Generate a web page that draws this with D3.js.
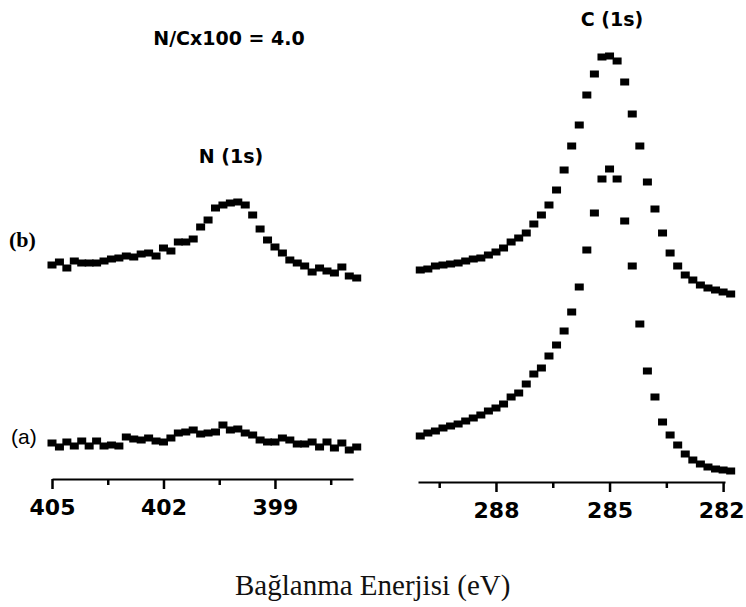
<!DOCTYPE html>
<html>
<head>
<meta charset="utf-8">
<script src="https://cdn.jsdelivr.net/npm/d3@7"></script>
<style>
  body { margin: 0; background: #fff; }
  svg { display: block; }
</style>
</head>
<body>
<script>
// Energies (eV) of the N 1s scan, 0.2 eV step
const nEnergy = [405.0, 404.8, 404.6, 404.4, 404.2, 404.0, 403.8, 403.6, 403.4, 403.2,
  403.0, 402.8, 402.6, 402.4, 402.2, 402.0, 401.8, 401.6, 401.4, 401.2,
  401.0, 400.8, 400.6, 400.4, 400.2, 400.0, 399.8, 399.6, 399.4, 399.2,
  399.0, 398.8, 398.6, 398.4, 398.2, 398.0, 397.8, 397.6, 397.4, 397.2,
  397.0, 396.8]
// Intensities (a.u., offsets as drawn)
const nB = [215, 218, 212, 219, 217, 217, 217, 219, 221, 222,
  224, 223, 226, 227, 224, 232, 229, 238, 238, 241,
  253, 260, 272, 275, 277, 278, 275, 265, 251, 240,
  233, 227, 220, 217, 214, 208, 212, 209, 207, 213,
  204, 202]
const nA = [37, 33, 38, 34, 39, 34, 39, 34, 35, 34,
  43, 41, 40, 42, 39, 38, 42, 47, 48, 50,
  46, 47, 48, 55, 50, 51, 47, 45, 40, 38,
  38, 42, 40, 36, 36, 38, 33, 38, 32, 37,
  30, 33]

// Energies (eV) of the C 1s scan
const cEnergy = [290.0, 289.8, 289.6, 289.4, 289.2, 289.0, 288.8, 288.6, 288.4, 288.2,
  288.0, 287.8, 287.6, 287.4, 287.2, 287.0, 286.8, 286.6, 286.4, 286.2,
  286.0, 285.8, 285.6, 285.4, 285.2, 285.0, 284.8, 284.6, 284.4, 284.2,
  284.0, 283.8, 283.6, 283.4, 283.2, 283.0, 282.8, 282.6, 282.4, 282.2,
  282.0, 281.8]
const cB = [210, 211, 214, 215, 216, 217, 219, 221, 222, 225,
  228, 232, 238, 242, 247, 256, 265, 275, 290, 310,
  334, 355, 385, 406, 423, 424, 419, 398, 366, 334,
  298, 271, 247, 227, 214, 205, 200, 195, 192, 190,
  188, 186]
const cA = [44, 47, 49, 52, 54, 56, 59, 62, 65, 69,
  72, 76, 83, 87, 96, 106, 112, 124, 135, 149,
  168, 193, 230, 267, 301, 311, 301, 259, 214, 156,
  109, 83, 58, 45, 35, 26, 20, 16, 13, 11,
  10, 9]

const nMajor = [405, 402, 399]
const nMinor = [403.5, 400.5, 397.5]
const cMajor = [288, 285, 282]
const cMinor = [289.5, 286.5, 283.5]

const W = 746, H = 607

const svg = d3.select("body").append("svg")
  .attr("width", W)
  .attr("height", H)

svg.append("rect").attr("width", W).attr("height", H).attr("fill", "#fff")

// scales (binding energy runs right to left)
const xN = d3.scaleLinear().domain([405, 396.9]).range([52, 353])
const xC = d3.scaleLinear().domain([290.06, 281.95]).range([418, 725])
const y = d3.scaleLinear().domain([0, 430]).range([480, 50])

// ---- axes
function drawAxis(scale, yPos, major, minor) {
  const g = svg.append("g").attr("transform", "translate(0," + yPos + ")")
  g.call(d3.axisBottom(scale).tickValues(major).tickSize(10).tickSizeOuter(0)
      .tickPadding(10).tickFormat(d3.format("d")))
  g.append("g").call(d3.axisBottom(scale).tickValues(minor).tickSize(6)
      .tickSizeOuter(0).tickFormat(""))
    .select(".domain").remove()
  g.selectAll(".domain").attr("stroke", "#000").attr("stroke-width", 2)
  g.selectAll(".tick line").attr("stroke", "#000").attr("stroke-width", 2.5)
  g.selectAll(".tick text")
    .attr("fill", "#000")
    .style("font-family", "'DejaVu Sans', sans-serif")
    .style("font-weight", "bold")
    .style("font-size", "22px")
  return g
}
drawAxis(xN, 479, nMajor, nMinor)
const axC = drawAxis(xC, 482, cMajor, cMinor)
// le dernier label touche le bord droit
axC.selectAll(".tick text").filter(d => d === 282).attr("dx", -2)

// ---- markers
function drawSeries(xs, xScale, vals) {
  svg.append("g")
    .selectAll("rect")
    .data(vals)
    .join("rect")
    .attr("x", (d, i) => xScale(xs[i]) - 4.5)
    .attr("y", d => y(d) - 3.5)
    .attr("width", 9)
    .attr("height", 7)
    .attr("fill", "#000")
}
drawSeries(nEnergy, xN, nB)
drawSeries(nEnergy, xN, nA)
drawSeries(cEnergy, xC, cB)
drawSeries(cEnergy, xC, cA)

// ---- labels
const bold = "'DejaVu Sans', sans-serif"
svg.append("text").attr("x", 229).attr("y", 45).attr("text-anchor", "middle")
  .style("font-family", bold).style("font-weight", "bold").style("font-size", "19px")
  .text("N/Cx100 = 4.0")
svg.append("text").attr("x", 231).attr("y", 163).attr("text-anchor", "middle")
  .style("font-family", bold).style("font-weight", "bold").style("font-size", "19px")
  .text("N (1s)")
svg.append("text").attr("x", 612).attr("y", 26).attr("text-anchor", "middle")
  .style("font-family", bold).style("font-weight", "bold").style("font-size", "19px")
  .text("C (1s)")

svg.append("text").attr("x", 9).attr("y", 247)
  .style("font-family", "'Liberation Serif', serif").style("font-weight", "bold")
  .style("font-size", "22px")
  .text("(b)")
svg.append("text").attr("x", 11).attr("y", 444)
  .style("font-family", "'Liberation Sans', Arial, sans-serif")
  .style("font-size", "21px")
  .text("(a)")

// titre axe X
svg.append("text").attr("x", 235).attr("y", 595)
  .style("font-family", "'Liberation Serif', 'Times New Roman', serif")
  .style("font-size", "29px")
  .attr("fill", "#111")
  .text("Bağlanma Enerjisi (eV)")
</script>
</body>
</html>
